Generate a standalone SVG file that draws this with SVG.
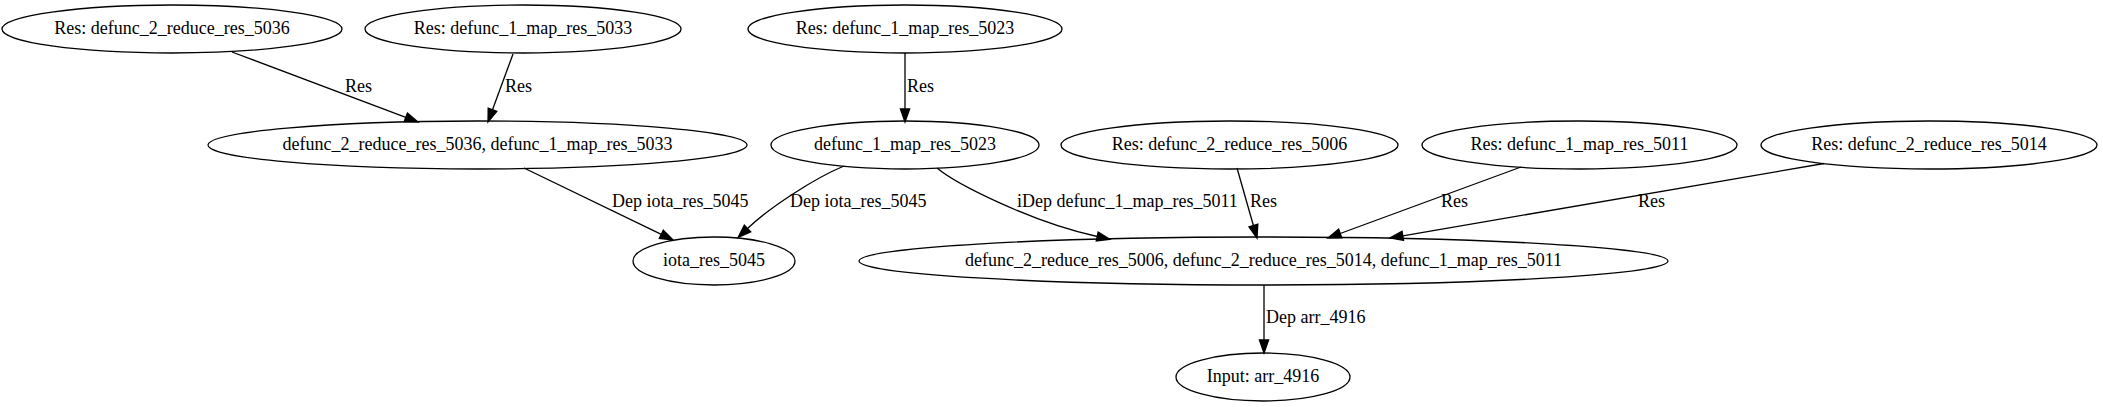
<svg xmlns="http://www.w3.org/2000/svg" width="2103" height="407" viewBox="0 0 2103 407">
<style>
.n ellipse{fill:none;stroke:#000;stroke-width:1.3}
.n text{font-family:"Liberation Serif","Times New Roman",serif;font-size:18px;text-anchor:middle;fill:#000}
.e path{fill:none;stroke:#000;stroke-width:1.3}
.e text{font-family:"Liberation Serif","Times New Roman",serif;font-size:18px;fill:#000}
</style>
<defs>
<marker id="ah" markerUnits="userSpaceOnUse" markerWidth="14" markerHeight="10" refX="0" refY="4.6" orient="auto" overflow="visible">
<path d="M0,0 L13,4.6 L0,9.2 z" fill="#000" stroke="#000" stroke-width="1.3"/>
</marker>
</defs>
<rect width="2103" height="407" fill="#fff"/>
<g id="connectors" class="e">
<path d="M232,52 L405.8,117.4" marker-end="url(#ah)"/>
<text x="345" y="92">Res</text>
<path d="M513,54 L492.5,109.8" marker-end="url(#ah)"/>
<text x="505" y="92">Res</text>
<path d="M905,53 L905,109" marker-end="url(#ah)"/>
<text x="907" y="92">Res</text>
<path d="M524,168 L661.3,234.3" marker-end="url(#ah)"/>
<text x="612" y="207">Dep iota_res_5045</text>
<path d="M844,166 C815,178 770,207 747.5,228.5" marker-end="url(#ah)"/>
<text x="790" y="207">Dep iota_res_5045</text>
<path d="M937,168 C955,183 1030,222 1097.2,236.5" marker-end="url(#ah)"/>
<text x="1017" y="207">iDep defunc_1_map_res_5011</text>
<path d="M1237,168 L1253.4,225.5" marker-end="url(#ah)"/>
<text x="1250" y="207">Res</text>
<path d="M1521,167 L1340.2,233.5" marker-end="url(#ah)"/>
<text x="1441" y="207">Res</text>
<path d="M1824,163.5 L1402.8,235.8" marker-end="url(#ah)"/>
<text x="1638" y="207">Res</text>
<path d="M1264,285 L1264,340" marker-end="url(#ah)"/>
<text x="1266" y="323">Dep arr_4916</text>
</g>
<g id="n1" class="n"><ellipse cx="172" cy="29" rx="170" ry="24"/><text x="172" y="34">Res: defunc_2_reduce_res_5036</text></g>
<g id="n2" class="n"><ellipse cx="523" cy="29" rx="158" ry="24"/><text x="523" y="34">Res: defunc_1_map_res_5033</text></g>
<g id="n3" class="n"><ellipse cx="905" cy="29" rx="157" ry="24"/><text x="905" y="34">Res: defunc_1_map_res_5023</text></g>
<g id="n4" class="n"><ellipse cx="477.5" cy="145" rx="269.5" ry="24"/><text x="477.5" y="150">defunc_2_reduce_res_5036, defunc_1_map_res_5033</text></g>
<g id="n5" class="n"><ellipse cx="905" cy="145" rx="134" ry="24"/><text x="905" y="150">defunc_1_map_res_5023</text></g>
<g id="n6" class="n"><ellipse cx="1229.5" cy="145" rx="168.5" ry="24"/><text x="1229.5" y="150">Res: defunc_2_reduce_res_5006</text></g>
<g id="n7" class="n"><ellipse cx="1579.5" cy="145" rx="157.5" ry="24"/><text x="1579.5" y="150">Res: defunc_1_map_res_5011</text></g>
<g id="n8" class="n"><ellipse cx="1929" cy="145" rx="168" ry="24"/><text x="1929" y="150">Res: defunc_2_reduce_res_5014</text></g>
<g id="n9" class="n"><ellipse cx="714" cy="261" rx="81" ry="24"/><text x="714" y="266">iota_res_5045</text></g>
<g id="n10" class="n"><ellipse cx="1263.5" cy="261" rx="404.5" ry="24"/><text x="1263.5" y="266">defunc_2_reduce_res_5006, defunc_2_reduce_res_5014, defunc_1_map_res_5011</text></g>
<g id="n11" class="n"><ellipse cx="1263" cy="377" rx="87" ry="24"/><text x="1263" y="382">Input: arr_4916</text></g>
</svg>
